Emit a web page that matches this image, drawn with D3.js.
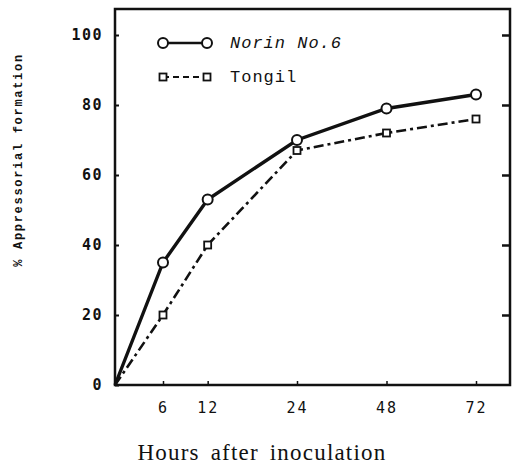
<!DOCTYPE html>
<html>
<head>
<meta charset="utf-8">
<script src="https://cdn.jsdelivr.net/npm/d3@7"></script>
<style>
  body { margin: 0; background: #fff; }
  svg { display: block; }
</style>
</head>
<body>
<svg id="canvas"></svg>
<script>
// values
let hours = [0, 6, 12, 24, 48, 72]
let norin = [0, 35, 53, 70, 79, 83]
let tongil = [0, 20, 40, 67, 72, 76]
let yTicks = [0, 20, 40, 60, 80, 100]
let xTicks = [6, 12, 24, 48, 72]
let seriesNames = ["Norin No.6", "Tongil"]

let width = 513
let height = 465

let canvas = d3.select("#canvas")
  .attr("width", width)
  .attr("height", height)

// the hour axis is not uniform in the original figure
let x = d3.scaleLinear().domain([0, 6, 24, 72]).range([115, 163, 297, 476])
let y = d3.scaleLinear().domain([0, 100]).range([385, 35])

let frameTop = 9
let frameRight = 510

// frame
canvas.append("path")
  .attr("d", `M${x(0)},${y(0)} V${frameTop} H${frameRight} V${y(0)} Z`)
  .attr("fill", "none")
  .attr("stroke", "#111")
  .attr("stroke-width", 2.5)

// left ticks + labels
let yAxis = d3.axisLeft(y).tickValues(yTicks).tickSize(-4).tickPadding(12)
let gy = canvas.append("g").attr("transform", `translate(${x(0)},0)`).call(yAxis)
gy.select(".domain").remove()
gy.selectAll("line").attr("stroke", "#111").attr("stroke-width", 2)
gy.selectAll("text")
  .attr("font-family", "'DejaVu Sans Mono', monospace")
  .attr("font-weight", "bold")
  .attr("font-size", 15)
  .attr("letter-spacing", 1.5)
  .attr("fill", "#111")

// right ticks (pointing inward)
let yRight = d3.axisRight(y).tickValues(yTicks.slice(1)).tickSize(-8).tickFormat("")
let gr = canvas.append("g").attr("transform", `translate(${frameRight},0)`).call(yRight)
gr.select(".domain").remove()
gr.selectAll("line").attr("stroke", "#111").attr("stroke-width", 2.5)

// bottom ticks + labels
let xAxis = d3.axisBottom(x).tickValues(xTicks).tickSize(-4).tickPadding(17)
let gx = canvas.append("g").attr("transform", `translate(0,${y(0)})`).call(xAxis)
gx.select(".domain").remove()
gx.selectAll("line").attr("stroke", "#111").attr("stroke-width", 1.5)
gx.selectAll("text")
  .attr("font-family", "'DejaVu Sans Mono', monospace")
  .attr("font-size", 15)
  .attr("letter-spacing", 2)
  .attr("fill", "#111")

// axis titles
canvas.append("text")
  .attr("transform", "translate(22,160) rotate(-90)")
  .attr("text-anchor", "middle")
  .attr("font-family", "'Liberation Mono', monospace")
  .attr("font-weight", "bold")
  .attr("font-size", 12)
  .attr("letter-spacing", 1.7)
  .attr("fill", "#111")
  .text("% Appressorial formation")

canvas.append("text")
  .attr("x", 262)
  .attr("y", 460)
  .attr("text-anchor", "middle")
  .attr("font-family", "'Liberation Serif', serif")
  .attr("font-size", 23)
  .attr("letter-spacing", 1.2)
  .attr("word-spacing", 4)
  .attr("fill", "#111")
  .text("Hours after inoculation")

let line = d3.line()
  .x((d, i) => x(hours[i]))
  .y(d => y(d))

// Norin No.6: solid, circles
canvas.append("path")
  .datum(norin)
  .attr("d", line)
  .attr("fill", "none")
  .attr("stroke", "#111")
  .attr("stroke-width", 3.4)

canvas.selectAll(".norin")
  .data(norin.slice(1))
  .enter()
  .append("circle")
  .attr("class", "norin")
  .attr("cx", (d, i) => x(hours[i + 1]))
  .attr("cy", d => y(d))
  .attr("r", 5)
  .attr("fill", "#fff")
  .attr("stroke", "#111")
  .attr("stroke-width", 2)

// Tongil: dash-dot, squares
canvas.append("path")
  .datum(tongil)
  .attr("d", line)
  .attr("fill", "none")
  .attr("stroke", "#111")
  .attr("stroke-width", 2.6)
  .attr("stroke-dasharray", "10,4,3,4")

canvas.selectAll(".tongil")
  .data(tongil.slice(1))
  .enter()
  .append("rect")
  .attr("class", "tongil")
  .attr("x", (d, i) => x(hours[i + 1]) - 3.5)
  .attr("y", d => y(d) - 3.5)
  .attr("width", 7)
  .attr("height", 7)
  .attr("fill", "#fff")
  .attr("stroke", "#111")
  .attr("stroke-width", 1.8)

// legend
let legend = canvas.append("g")
let lx1 = 163, lx2 = 207

legend.append("line")
  .attr("x1", lx1).attr("x2", lx2).attr("y1", 43).attr("y2", 43)
  .attr("stroke", "#111").attr("stroke-width", 2.5)
legend.selectAll("circle")
  .data([lx1, lx2])
  .enter()
  .append("circle")
  .attr("cx", d => d).attr("cy", 43).attr("r", 5)
  .attr("fill", "#fff").attr("stroke", "#111").attr("stroke-width", 2)

legend.append("line")
  .attr("x1", lx1).attr("x2", lx2).attr("y1", 77).attr("y2", 77)
  .attr("stroke", "#111").attr("stroke-width", 2.2)
  .attr("stroke-dasharray", "6,4")
legend.selectAll("rect")
  .data([lx1, lx2])
  .enter()
  .append("rect")
  .attr("x", d => d - 3.5).attr("y", 73.5).attr("width", 7).attr("height", 7)
  .attr("fill", "#fff").attr("stroke", "#111").attr("stroke-width", 1.8)

legend.append("text")
  .attr("x", 230).attr("y", 48)
  .attr("font-family", "'Liberation Mono', monospace")
  .attr("font-style", "italic")
  .attr("font-size", 17)
  .attr("letter-spacing", 1)
  .attr("fill", "#111")
  .text(seriesNames[0])

legend.append("text")
  .attr("x", 230).attr("y", 82)
  .attr("font-family", "'Liberation Mono', monospace")
  .attr("font-size", 17)
  .attr("letter-spacing", 1)
  .attr("fill", "#111")
  .text(seriesNames[1])
</script>
</body>
</html>
